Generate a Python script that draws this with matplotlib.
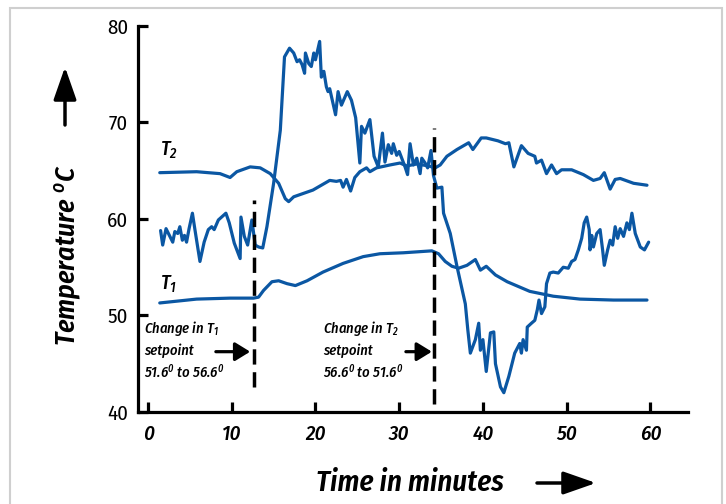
import matplotlib
matplotlib.use("Agg")
import matplotlib.pyplot as plt
from matplotlib.patches import Rectangle, FancyArrowPatch

# ---------------- data ----------------
t2_time = [1.4, 5.8, 8.6, 9.8, 10.6, 12.2, 13.4, 14.6, 15.6, 16.4, 16.8, 17.4, 19.7, 20.9,
           21.7, 22.5, 23.0, 23.3, 23.7, 24.2, 24.7, 25.3, 26.1, 26.5, 27.3, 28.9, 30.1,
           30.9, 32.1, 33.5, 34.3, 34.9, 35.7, 36.9, 38.3, 38.8, 39.8, 40.4, 41.8, 42.7,
           43.1, 43.7, 44.6, 45.4, 46.2, 46.4, 47.0, 47.6, 48.2, 48.8, 49.4, 50.6, 52.0,
           53.2, 54.0, 54.5, 55.2, 55.8, 56.4, 58.0, 59.6]
t2_temp = [64.8, 64.9, 64.7, 64.3, 64.9, 65.4, 65.3, 64.7, 63.7, 62.1, 61.8, 62.3, 63.0, 63.6,
           64.0, 63.9, 64.0, 63.3, 64.1, 62.9, 64.3, 64.9, 65.3, 64.9, 65.3, 65.6, 65.8,
           65.5, 65.7, 65.5, 65.3, 65.6, 66.5, 67.2, 67.9, 67.2, 68.4, 68.4, 68.1, 67.8,
           67.9, 65.4, 67.6, 66.8, 66.5, 65.8, 66.1, 64.7, 65.6, 64.7, 65.1, 65.1, 64.6,
           64.0, 64.2, 64.8, 63.1, 64.1, 64.2, 63.7, 63.5]

t1_time = [1.4, 5.8, 9.8, 12.6, 13.2, 13.8, 14.8, 15.6, 16.6, 17.6, 19.0, 20.9, 23.3, 25.7,
           27.7, 30.5, 33.9, 34.7, 35.5, 36.3, 37.1, 38.1, 39.1, 39.7, 40.4, 41.5, 42.9,
           45.6, 48.4, 51.6, 55.6, 59.6]
t1_temp = [51.3, 51.7, 51.8, 51.8, 51.9, 52.6, 53.5, 53.6, 53.3, 53.1, 53.6, 54.5, 55.4, 56.1,
           56.4, 56.5, 56.7, 56.4, 55.6, 55.1, 54.9, 55.2, 55.8, 54.7, 55.1, 54.2, 53.5,
           52.5, 52.0, 51.7, 51.6, 51.6]

noisy_time = [1.5, 1.75, 2.15, 2.55, 2.95, 3.2, 3.55, 3.8, 4.1, 4.35, 4.6, 4.9, 5.3, 5.6, 6.2,
              6.7, 7.2, 7.6, 7.9, 8.4, 9.3, 9.7, 10.3, 11.0, 11.1, 11.5, 11.9, 12.4, 12.8,
              13.2, 13.7, 14.2, 15.0, 15.8, 16.3, 16.9, 17.4, 17.8, 18.1, 18.4, 18.7, 18.8,
              19.2, 19.5, 19.8, 20.0, 20.5, 20.7, 21.0, 21.3, 21.5, 21.7, 22.4, 22.7, 23.1,
              23.8, 24.3, 24.8, 25.3, 25.5, 25.9, 26.5, 27.0, 27.5, 28.0, 28.3, 28.7, 29.1,
              29.3, 29.7, 30.0, 30.7, 31.0, 31.3, 31.7, 32.1, 32.5, 32.7, 33.1, 33.4, 33.8,
              34.1, 34.5, 35.1, 35.3, 36.1, 36.9, 37.9, 38.2, 38.5, 39.1, 39.5, 39.7, 40.0,
              40.4, 40.9, 41.3, 41.5, 42.1, 42.5, 43.1, 43.8, 44.4, 44.6, 44.8, 45.2, 45.3,
              45.8, 46.2, 46.5, 46.7, 47.0, 47.4, 47.6, 48.0, 48.4, 49.0, 49.6, 50.2, 50.6,
              51.0, 51.4, 51.8, 52.1, 52.4, 52.7, 52.8, 53.0, 53.2, 53.6, 54.0, 54.3, 54.5,
              54.9, 55.2, 55.5, 55.8, 56.1, 56.4, 56.8, 57.2, 57.5, 57.8, 58.2, 58.8, 59.3,
              59.8]
noisy_temp = [58.8, 57.3, 59.0, 58.3, 57.6, 58.7, 58.5, 59.2, 57.8, 58.3, 57.6, 59.0, 60.6, 58.9,
              55.6, 57.6, 58.9, 59.2, 58.9, 59.9, 60.6, 59.6, 57.5, 55.9, 60.2, 58.2, 57.3,
              59.9, 57.3, 57.1, 57.0, 59.2, 63.7, 69.2, 76.8, 77.7, 77.2, 76.3, 76.5, 76.0,
              75.1, 77.2, 76.1, 75.8, 77.2, 76.5, 78.4, 74.7, 75.3, 73.7, 73.2, 73.5, 70.8,
              73.2, 71.8, 73.2, 72.3, 70.5, 65.8, 69.6, 68.9, 70.3, 66.5, 65.4, 68.9, 65.9,
              67.7, 66.8, 67.8, 66.6, 67.0, 65.4, 64.6, 67.8, 65.6, 66.3, 64.7, 66.3, 65.8,
              65.3, 67.1, 64.5, 63.2, 63.3, 60.6, 58.5, 55.1, 51.2, 48.5, 46.1, 47.5, 49.2,
              46.4, 47.5, 44.2, 48.2, 48.3, 45.0, 42.6, 42.0, 43.7, 46.1, 47.1, 46.1, 47.5,
              46.4, 48.8, 49.2, 49.5, 50.6, 51.6, 50.2, 50.9, 53.3, 54.4, 54.5, 54.4, 55.0,
              54.9, 55.6, 55.8, 56.8, 58.0, 59.6, 60.2, 58.9, 56.8, 58.3, 57.1, 58.5, 58.9,
              56.8, 55.2, 56.8, 57.8, 57.3, 59.2, 58.0, 59.0, 58.2, 59.6, 58.9, 60.6, 58.5,
              57.1, 56.8, 57.6]

x_ticks = [0, 10, 20, 30, 40, 50, 60]
y_ticks = [40, 50, 60, 70, 80]
setpoint_change_times = [12.7, 34.2]

# ---------------- style ----------------
FONT = ['Fira Sans Condensed', 'DejaVu Sans']
plt.rcParams['font.family'] = FONT
plt.rcParams['mathtext.fontset'] = 'custom'
plt.rcParams['mathtext.rm'] = 'Fira Sans Condensed:italic:medium'
plt.rcParams['mathtext.it'] = 'Fira Sans Condensed:italic:medium'
plt.rcParams['mathtext.bf'] = 'Fira Sans Condensed:italic:bold'

BLUE = '#0b57a3'
LW = 2.3

fig = plt.figure(figsize=(7.26, 5.04), dpi=100)
fig.patch.set_facecolor('white')
fig.patches.append(Rectangle((10 / 726, -0.05), 712 / 726, 1 - 8 / 504 + 0.05,
                             transform=fig.transFigure, fill=False,
                             edgecolor='#cfcfcf', linewidth=1.5))

ax = fig.add_axes([138 / 726, 1 - 412 / 504, 550 / 726, 386 / 504])
ax.set_xlim(-1.2, 64.5)
ax.set_ylim(40, 80)

kw = dict(color=BLUE, lw=LW, solid_joinstyle='round', solid_capstyle='round')
ax.plot(t2_time, t2_temp, **kw)
ax.plot(t1_time, t1_temp, **kw)
ax.plot(noisy_time, noisy_temp, **kw)

# dashed setpoint-change lines
ax.plot([setpoint_change_times[0]] * 2, [42.6, 62.0], color='black', lw=2.5,
        dashes=(4.4, 2.2))
ax.plot([setpoint_change_times[1]] * 2, [40.8, 69.4], color='black', lw=2.5,
        dashes=(4.4, 2.2))

for s in ['top', 'right']:
    ax.spines[s].set_visible(False)
for s in ['left', 'bottom']:
    ax.spines[s].set_linewidth(2.3)
    ax.spines[s].set_capstyle('projecting')

ax.set_xticks(x_ticks)
ax.set_yticks(y_ticks)
ax.tick_params(axis='both', direction='in', length=7, width=2.3, color='black')
ax.tick_params(axis='y', pad=7, labelsize=15)
ax.tick_params(axis='x', pad=9, labelsize=15)
ax.set_xticklabels([str(v) for v in x_ticks], style='italic', weight='medium')
ax.set_yticklabels([str(v) for v in y_ticks])

# curve labels
ax.text(1.4, 67.1, r'$T_2$', fontsize=14.5, ha='left', va='center')
ax.text(1.4, 53.2, r'$T_1$', fontsize=14.5, ha='left', va='center')

# annotations
ann_kw = dict(fontsize=10.5, style='italic', weight='medium', ha='left', va='center')
ax.text(-0.5, 48.67, r'Change in $T_1$', **ann_kw)
ax.text(-0.5, 46.35, 'setpoint', **ann_kw)
ax.text(-0.5, 44.17, r'51.6$^0$ to 56.6$^0$', **ann_kw)
ax.text(20.9, 48.67, r'Change in $T_2$', **ann_kw)
ax.text(20.9, 46.35, 'setpoint', **ann_kw)
ax.text(20.9, 44.17, r'56.6$^0$ to 51.6$^0$', **ann_kw)

arrow_kw = dict(arrowstyle='-|>,head_length=0.65,head_width=0.4', color='black', lw=2.3,
                shrinkA=0, shrinkB=0, mutation_scale=14)
ax.annotate('', xy=(12.2, 46.25), xytext=(8.1, 46.25), arrowprops=arrow_kw)
ax.annotate('', xy=(33.9, 46.25), xytext=(30.8, 46.25), arrowprops=arrow_kw)

# axis labels
fig.text(68 / 726, 1 - 255 / 504, r'Temperature $^o$C', rotation=90, fontsize=20,
         style='italic', weight='semibold', ha='center', va='center')
fig.text(410 / 726, 1 - 483 / 504, 'Time in minutes', fontsize=21,
         style='italic', weight='semibold', ha='center', va='center')

big_arrow = dict(arrowstyle='-|>,head_length=2.0,head_width=0.7', color='black', lw=2.5,
                 shrinkA=0, shrinkB=0, mutation_scale=10)
fig.add_artist(FancyArrowPatch((65 / 726, 1 - 125 / 504), (65 / 726, 1 - 67 / 504),
                               transform=fig.transFigure, **big_arrow))
fig.add_artist(FancyArrowPatch((537 / 726, 1 - 483 / 504), (596 / 726, 1 - 483 / 504),
                               transform=fig.transFigure, **big_arrow))

fig.savefig('out.png', dpi=100)
